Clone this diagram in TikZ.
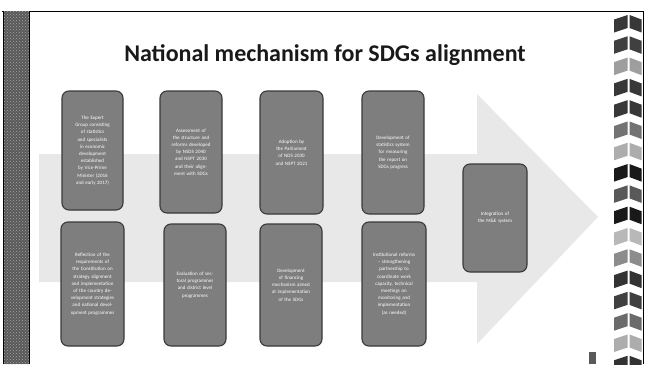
\documentclass[tikz,border=0pt]{standalone}
\usepackage{fontspec}
\setmainfont{Carlito}
\usetikzlibrary{patterns}
\definecolor{arrowgrey}{HTML}{E8E8E8}
\definecolor{boxgrey}{HTML}{7E7E7E}
\definecolor{boxedge}{HTML}{3A3A3A}
\tikzset{
  stepbox/.style={draw=boxedge, line width=1.1pt, fill=boxgrey, rounded corners=7pt,
    text=white, font=\fontsize{5}{7.2}\selectfont, align=center, inner sep=1pt},
  titletext/.style={font=\fontsize{24}{27}\selectfont\bfseries, text=black!90},
}
\begin{document}
\begin{tikzpicture}[x=1pt,y=-1pt]
\useasboundingbox (0,0) rectangle (645,364);
\fill[white] (0,0) rectangle (645,364);
% frame
\draw[black, line width=0.9pt] (2,11) -- (643,11) -- (643,364);
% left decorative strip
\fill[black!65] (3,11) rectangle (29,364);
\fill[pattern=crosshatch dots, pattern color=black!35] (3,11) rectangle (29,364);
\draw[black, line width=0.9pt] (3,11) -- (3,364);
\draw[black, line width=0.9pt] (29,11) -- (29,364);
% chevrons on the right
\foreach \i/\c in {0/78,1/75,2/38,3/78,4/78,5/55,6/32,7/90,8/65,9/90,10/28,11/45,12/80,13/75,14/58,15/32,16/80}{
  \pgfmathsetmacro{\yy}{15+\i*21.3}
  \fill[black!\c] (614,\yy+4.5) -- (627.5,\yy) -- (627.5,\yy+13) -- (614,\yy+17.5) -- cycle;
  \fill[black!\c] (629.5,\yy) -- (641.5,\yy+4.5) -- (641.5,\yy+17.5) -- (629.5,\yy+13) -- cycle;
}
% title
\node[titletext] (title) at (325,55) {National mechanism for SDGs alignment};
% big arrow
\fill[arrowgrey] (39,154) -- (477,154) -- (477,94) -- (598,217) -- (477,344) -- (477,282) -- (39,282) -- cycle;
% boxes
\node[stepbox, minimum width=61pt, minimum height=119pt, text width=42pt] (b1) at (92.5,150.5)
 {The Expert Group consisting of statistics and specialists in economic development established by Vice-Prime Minister (2016 and early 2017)};
\node[stepbox, minimum width=62pt, minimum height=122pt, text width=43pt] (b2) at (191,152)
 {Assessment of the structure and reforms developed by NSDS 2040 and NSPT 2030 and their alignment with SDGs};
\node[stepbox, minimum width=63pt, minimum height=123pt, text width=43pt] (b3) at (291.5,152.5)
 {Adoption by the Parliament of NDS 2030 and NSPT 2021};
\node[stepbox, minimum width=62pt, minimum height=123pt, text width=42pt] (b4) at (393,152.5)
 {Development of statistics system for measuring the report on SDGs progress};
\node[stepbox, minimum width=63pt, minimum height=124pt, text width=44pt] (b5) at (92.5,284)
 {Reflection of the requirements of the Constitution on strategy alignment and implementation of the country development strategies and national development programmes};
\node[stepbox, minimum width=62pt, minimum height=122pt, text width=42pt] (b6) at (195,285)
 {Evaluation of sectoral programmes and district level programmes};
\node[stepbox, minimum width=62pt, minimum height=122pt, text width=42pt] (b7) at (291,285)
 {Development of financing mechanism aimed at implementation of the SDGs};
\node[stepbox, minimum width=64pt, minimum height=124pt, text width=44pt] (b8) at (394,284)
 {Institutional reforms -- strengthening partnership to coordinate work capacity, technical meetings on monitoring and implementation (as needed)};
\node[stepbox, minimum width=64pt, minimum height=108pt, text width=42pt] (b9) at (495,218)
 {Integration of the M\&E system};
% page number
\fill[black!65] (589,352) rectangle (596,364);
\end{tikzpicture}
\end{document}
